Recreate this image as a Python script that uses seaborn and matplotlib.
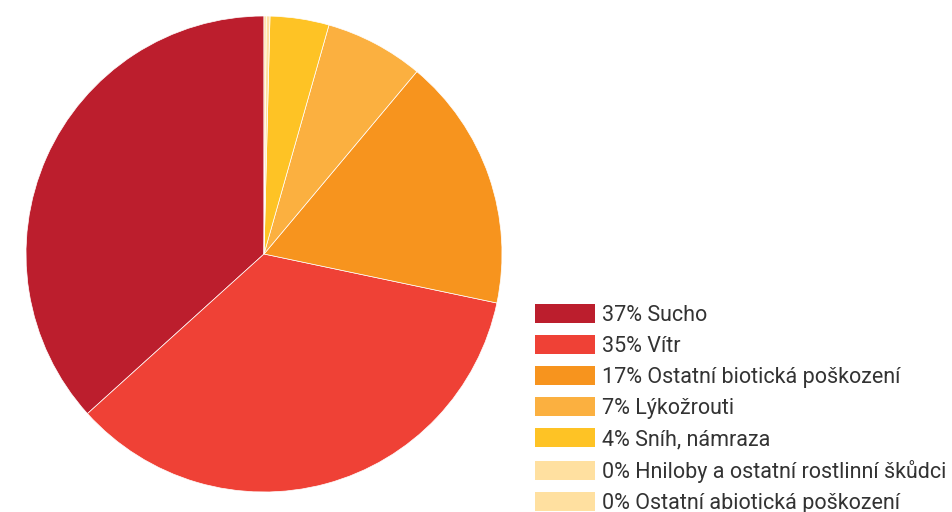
import matplotlib
matplotlib.use("Agg")
import matplotlib.pyplot as plt
import matplotlib.patches as mpatches
import seaborn as sns

# Data
categories = ["Sucho", "Vítr", "Ostatní biotická poškození", "Lýkožrouti",
              "Sníh, námraza", "Hniloby a ostatní rostlinní škůdci",
              "Ostatní abiotická poškození"]
shares = [36.7, 35.0, 17.2, 6.7, 4.0, 0.25, 0.15]
pct_labels = ["37%", "35%", "17%", "7%", "4%", "0%", "0%"]
colors = ["#BC1E2D", "#EF4136", "#F7941E", "#FBB040", "#FEC325", "#FFE0A0", "#FFE0A0"]

sns.set_theme(style="white")
plt.rcParams["font.family"] = ["Roboto", "DejaVu Sans"]

fig = plt.figure(figsize=(9.53, 5.12), dpi=100)
cx, cy, r = 264, 254, 238
ax = fig.add_axes([(cx - r) / 953, (512 - cy - r) / 512, 2 * r / 953, 2 * r / 512])
ax.pie(shares, colors=colors, startangle=90, counterclock=True, radius=1,
       wedgeprops=dict(edgecolor="white", linewidth=0.5))
ax.set_xlim(-1, 1)
ax.set_ylim(-1, 1)
ax.set_aspect("equal")
ax.axis("off")

fs = 15.5
px = fs * 100 / 72
handles = [mpatches.Patch(facecolor=c, edgecolor="none") for c in colors]
labels = [f"{p} {c}" for p, c in zip(pct_labels, categories)]
fig.legend(handles, labels, loc="upper left",
           bbox_to_anchor=(535 / 953, 1 - 304 / 512),
           bbox_transform=fig.transFigure,
           frameon=False, fontsize=fs, handlelength=60 / px, handleheight=21 / px,
           handletextpad=7 / px, labelspacing=0.43, borderpad=0, borderaxespad=0,
           labelcolor="#333333")

fig.savefig("out.png", dpi=100)
